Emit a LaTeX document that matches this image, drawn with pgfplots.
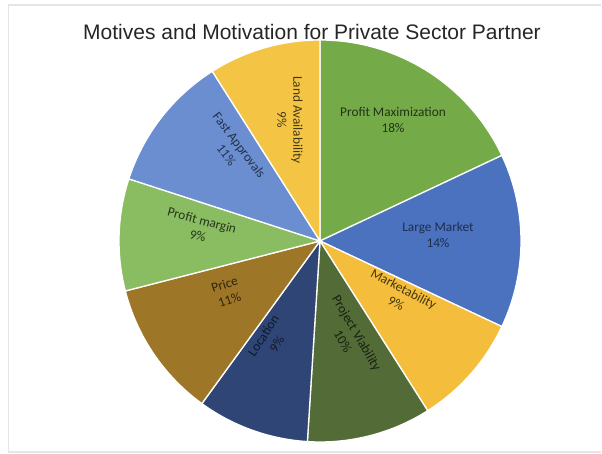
\documentclass[border=0pt]{standalone}
\usepackage{pgfplots}
\pgfplotsset{compat=1.18}
\usepackage{fontspec}
\setmainfont{Liberation Sans}
\newfontfamily\lab{Carlito}

% slice colours
\definecolor{cPM}{HTML}{74AB48}
\definecolor{cLM}{HTML}{4A72BF}
\definecolor{cMk}{HTML}{F4BD3B}
\definecolor{cPV}{HTML}{526B37}
\definecolor{cLo}{HTML}{2F4576}
\definecolor{cPr}{HTML}{9D7628}
\definecolor{cPm}{HTML}{8ABD62}
\definecolor{cFA}{HTML}{6B8ED0}
\definecolor{cLA}{HTML}{F4C444}

\begin{document}
\begin{tikzpicture}
\begin{axis}[
    x=1pt, y=1pt,
    xmin=0, xmax=602,
    ymin=0, ymax=454,
    hide axis,
    clip=false,
]
% keep the full page
\path (axis cs:0,0) rectangle (axis cs:602,454);
% frame of the chart area
\draw[black!10, line width=1.5pt] (axis cs:601,449) -- (axis cs:8.5,449) -- (axis cs:8.5,2) -- (axis cs:601,2);

% slices, clockwise from 12 o'clock (values in %)
\gdef\cum{0}
\foreach \v/\col in {18/cPM, 14/cLM, 9/cMk, 10/cPV, 9/cLo, 11/cPr, 9/cPm, 11/cFA, 9/cLA}{
  \pgfmathsetmacro\a{90-3.6*\cum}
  \pgfmathsetmacro\b{90-3.6*(\cum+\v)}
  \edef\tmp{\noexpand\fill[\col, draw=white, line width=1.3pt, line join=round]
    (axis cs:320,213) -- +(\a:201pt) arc[start angle=\a, end angle=\b, radius=201pt] -- cycle;}
  \tmp
  \pgfmathsetmacro\n{\cum+\v}
  \xdef\cum{\n}
}

% title
\node[font=\fontsize{21}{24}\selectfont, text=black!85] at (axis cs:312,422) {Motives and Motivation for Private Sector Partner};

% data labels
\begin{scope}[every node/.style={font=\lab\fontsize{13.3}{16}\selectfont, align=center, inner sep=1pt}]
\node[text=cPM!30!black] at (axis cs:393,334) {Profit Maximization\\18\%};
\node[text=cLM!40!black] at (axis cs:438,219) {Large Market\\14\%};
\node[text=cMk!28!black, rotate=-28] at (axis cs:400,158) {Marketability\\9\%};
\node[text=cPV!30!black, rotate=-60] at (axis cs:350,117) {Project Viability\\10\%};
\node[text=cLo!35!black, rotate=57] at (axis cs:270,114) {Location\\9\%};
\node[text=cPr!30!black, rotate=18] at (axis cs:227,162) {Price\\11\%};
\node[text=cPm!28!black, rotate=-15] at (axis cs:200,226) {Profit margin\\9\%};
\node[text=cFA!35!black, rotate=-53] at (axis cs:233,304) {Fast Approvals\\11\%};
\node[text=cLA!28!black, rotate=-90] at (axis cs:290,334) {Land Availability\\9\%};
\end{scope}
\end{axis}
\end{tikzpicture}
\end{document}
